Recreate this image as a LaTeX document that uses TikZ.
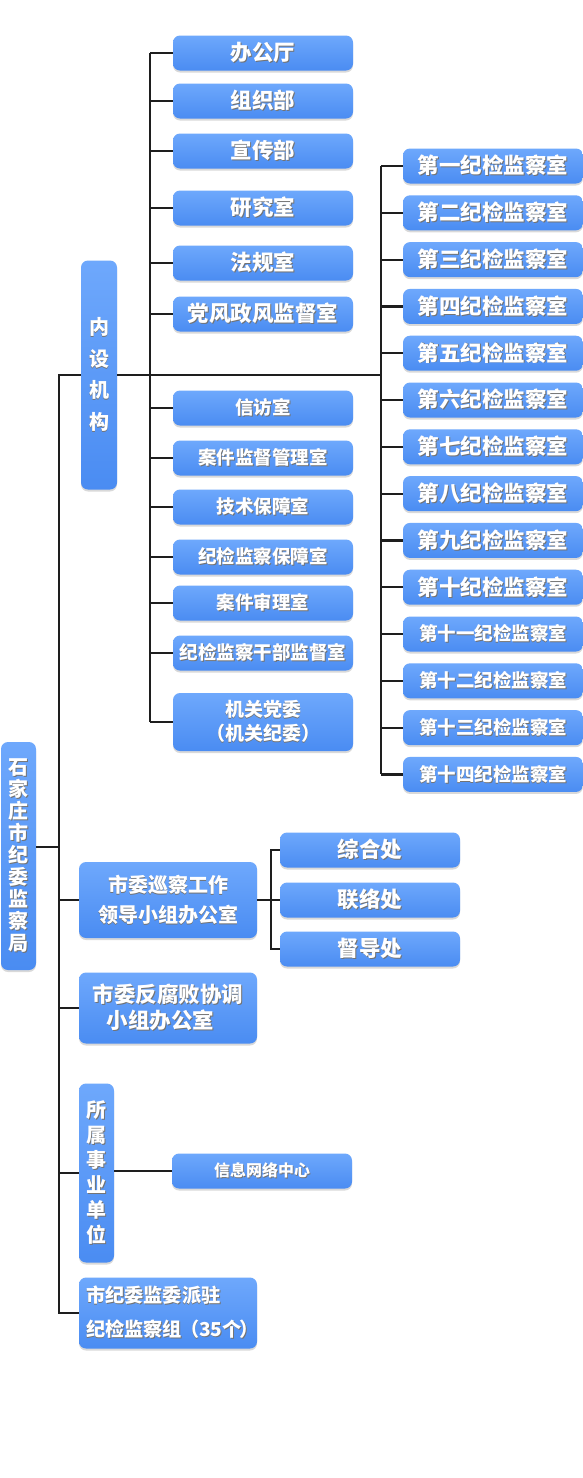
\documentclass[tikz,border=0pt]{standalone}
\usepackage{fontspec}
\setmainfont{Noto Sans CJK SC}
\usetikzlibrary{shadows}
\definecolor{boxtop}{RGB}{110,168,252}
\definecolor{boxbot}{RGB}{74,140,242}
\definecolor{wirecol}{RGB}{30,30,30}
\newcommand\txsh[1]{\makebox[0pt][l]{\kern0.9pt\raisebox{-0.9pt}{\color{black!55}#1}}#1}
\begin{document}
\begin{tikzpicture}[x=1pt, y=-1pt,
    wire/.style={draw=wirecol, line width=2.2pt},
    box/.style={rounded corners=7pt, top color=boxtop, bottom color=boxbot, text=white,
        inner sep=0pt, align=center,
        drop shadow={fill=black, opacity=0.15, shadow xshift=0pt, shadow yshift=-2pt}},
    wide/.style={box, minimum width=180pt, minimum height=35pt},
    tall/.style={box, minimum width=35pt},
    big/.style={font=\bfseries\fontsize{21.5}{26}\selectfont},
    small/.style={font=\bfseries\fontsize{18.5}{24}\selectfont}]
    \useasboundingbox[fill=white] (0,0) rectangle (583,1478);

    \node[tall, minimum height=228pt, font=\bfseries\fontsize{20}{22.1}\selectfont] (root) at (18.5,856)
        {\txsh{石}\\\txsh{家}\\\txsh{庄}\\\txsh{市}\\\txsh{纪}\\\txsh{委}\\\txsh{监}\\\txsh{察}\\\txsh{局}};
    \node[tall, minimum width=36pt, minimum height=229pt, font=\bfseries\fontsize{20}{31.7}\selectfont] (ins) at (99,375)
        {\txsh{内}\\\txsh{设}\\\txsh{机}\\\txsh{构}};

    \foreach \nm/\y/\txt in {bgt/53/办公厅, zzb/101/组织部, xcb/151/宣传部, yjs/208/研究室, fgs/263/法规室, dfz/314/党风政风监督室}
        \node[wide, big] (\nm) at (263,\y) {\txsh{\txt}};
    \foreach \nm/\y/\txt in {xfs/408/信访室, ajg/458/案件监督管理室, jsb/507/技术保障室, jbz/557/纪检监察保障室, ajs/603/案件审理室, jgb/653/纪检监察干部监督室}
        \node[wide, small] (\nm) at (263,\y) {\txsh{\txt}};
    \node[wide, minimum height=58pt, font=\bfseries\fontsize{19}{24}\selectfont] (jgd) at (263,722)
        {\txsh{机关党委}\\\txsh{（机关纪委）}};

    \foreach \nm [count=\i] in {一,二,三,四,五,六,七,八,九,十}
        \node[wide, big] (k\i) at (493,{166+(\i-1)*46.8}) {\txsh{第\nm{}纪检监察室}};
    \foreach \nm [count=\i from 11] in {十一,十二,十三,十四}
        \node[wide, small] (k\i) at (493,{166+(\i-1)*46.8}) {\txsh{第\nm{}纪检监察室}};

    \node[wide, minimum width=178pt, minimum height=76pt, font=\bfseries\fontsize{20}{30}\selectfont] (xc) at (168,900)
        {\txsh{市委巡察工作}\\\txsh{领导小组办公室}};
    \foreach \nm/\y/\txt in {zh/850/综合处, lh/900/联络处, dd/949/督导处}
        \node[wide, big] (\nm) at (370,\y) {\txsh{\txt}};
    \node[wide, minimum width=178pt, minimum height=71pt, align=left, big] (fb) at (168,1008)
        {\txsh{市委反腐败协调}\\\hspace*{14pt}\txsh{小组办公室}};
    \node[tall, minimum height=179pt, font=\bfseries\fontsize{20}{25}\selectfont] (sy) at (96.5,1173)
        {\txsh{所}\\\txsh{属}\\\txsh{事}\\\txsh{业}\\\txsh{单}\\\txsh{位}};
    \node[wide, font=\bfseries\fontsize{16}{20}\selectfont] (xx) at (262,1171) {\txsh{信息网络中心}};
    \node[wide, minimum width=178pt, minimum height=71pt, text width=164pt, align=left,
        font=\bfseries\fontsize{19.2}{34}\selectfont] (pz) at (168,1313)
        {\txsh{市纪委监委派驻}\\\txsh{纪检监察组\kern-2pt（35个\kern-2pt）}};

    \coordinate (trunk) at (59,375);
    \coordinate (lbus) at (150,375);
    \coordinate (rbus) at (381,375);
    \coordinate (sbus) at (271,900);

    \draw[wire] ([yshift=9pt]root.east) -- ([yshift=9pt]root.east -| trunk);
    \draw[wire] (ins.west) -- (trunk) -- (trunk |- pz.west) -- (pz.west);
    \draw[wire] (ins.east) -- (rbus);
    \draw[wire] (lbus |- bgt.west) -- (lbus |- jgd.west);
    \foreach \nm in {bgt,zzb,xcb,yjs,fgs,dfz,xfs,ajg,jsb,jbz,ajs,jgb,jgd}
        \draw[wire] (lbus |- \nm.west) -- (\nm.west);
    \draw[wire] (rbus |- k1.west) -- (rbus |- k14.west);
    \foreach \i in {1,...,14}
        \draw[wire] (rbus |- k\i.west) -- (k\i.west);
    \foreach \nm in {xc,fb,sy}
        \draw[wire] (trunk |- \nm.west) -- (\nm.west);
    \draw[wire] (xc.east) -- (lh.west);
    \draw[wire] (zh.west) -- (sbus |- zh.west) -- (sbus |- dd.west) -- (dd.west);
    \draw[wire] (sy.east |- xx.west) -- (xx.west);
\end{tikzpicture}
\end{document}
